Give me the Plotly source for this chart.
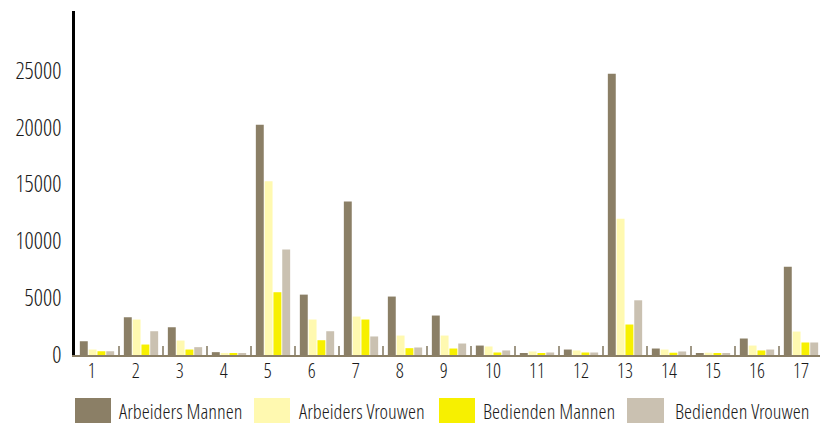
import plotly.graph_objects as go

categories = [str(i) for i in range(1, 18)]
arbeiders_mannen = [1210, 3320, 2440, 250, 20250, 5310, 13490, 5140, 3470, 830, 100, 480, 24730, 570, 150, 1450, 7770]
arbeiders_vrouwen = [480, 3120, 1270, 100, 15270, 3120, 3380, 1710, 1710, 750, 310, 400, 11990, 480, 200, 830, 2060]
bedienden_mannen = [330, 920, 480, 150, 5520, 1300, 3120, 600, 570, 220, 150, 220, 2680, 200, 150, 400, 1100]
bedienden_vrouwen = [330, 2090, 690, 150, 9270, 2090, 1630, 660, 1010, 400, 220, 220, 4810, 310, 150, 480, 1100]
series_names = ["Arbeiders Mannen", "Arbeiders Vrouwen", "Bedienden Mannen", "Bedienden Vrouwen"]
series_values = [arbeiders_mannen, arbeiders_vrouwen, bedienden_mannen, bedienden_vrouwen]
colors = ["#8B7F66", "#FFF9B0", "#F7F000", "#CAC1B1"]
y_ticks = [0, 5000, 10000, 15000, 20000, 25000, 30000]
x_tick_labels = [c if len(c) > 1 else c + "\u00a0\u00a0" for c in categories]

FONT = "Open Sans Condensed Light"
OFF = 8  # page body margin of the html page
W, H = 828, 429
L, R, T, B = 67, 13, 3, 82

fig = go.Figure()
for name, vals, col in zip(series_names, series_values, colors):
    fig.add_trace(go.Bar(x=categories, y=vals, name=name, marker=dict(color=col, line=dict(width=0)),
                         showlegend=False))

fig.update_layout(
    width=W, height=H,
    margin=dict(l=L, r=R, t=T, b=B),
    paper_bgcolor="white", plot_bgcolor="white",
    barmode="group", bargap=0.2, bargroupgap=0.1,
    font=dict(family=FONT, size=20, color="#1a1a1a"),
)
fig.update_xaxes(
    type="category", showgrid=False, zeroline=False,
    showline=True, linecolor="#8B7F66", linewidth=2,
    ticks="inside", tickson="boundaries", ticklen=9, tickwidth=2, tickcolor="#A09886",
    tickvals=categories, ticktext=x_tick_labels,
    ticklabelstandoff=-3, tickfont=dict(size=20),
)
fig.update_yaxes(
    range=[0, 30250], showgrid=False, zeroline=False,
    showline=True, linecolor="black", linewidth=3,
    tickvals=y_ticks, ticktext=[str(v) for v in y_ticks], ticks="",
    ticklabelstandoff=6, tickfont=dict(size=23),
)

pw, ph = W - L - R, H - T - B
def px(x):
    return (x - OFF - L) / pw
def py(y):
    return (H - B - (y - OFF)) / ph

legend_items = [(75, 111, 117), (254, 290, 297), (439, 475, 481), (627, 664, 673)]
for (x0, x1, tx), name, col in zip(legend_items, series_names, colors):
    fig.add_shape(type="rect", xref="paper", yref="paper",
                  x0=px(x0), x1=px(x1), y0=py(423), y1=py(398),
                  fillcolor=col, line=dict(width=0))
    fig.add_annotation(xref="paper", yref="paper", x=px(tx), y=py(411),
                       text=name, showarrow=False, xanchor="left", yanchor="middle",
                       font=dict(family=FONT, size=20.5, color="#1a1a1a"))

fig.write_html("out.html")
